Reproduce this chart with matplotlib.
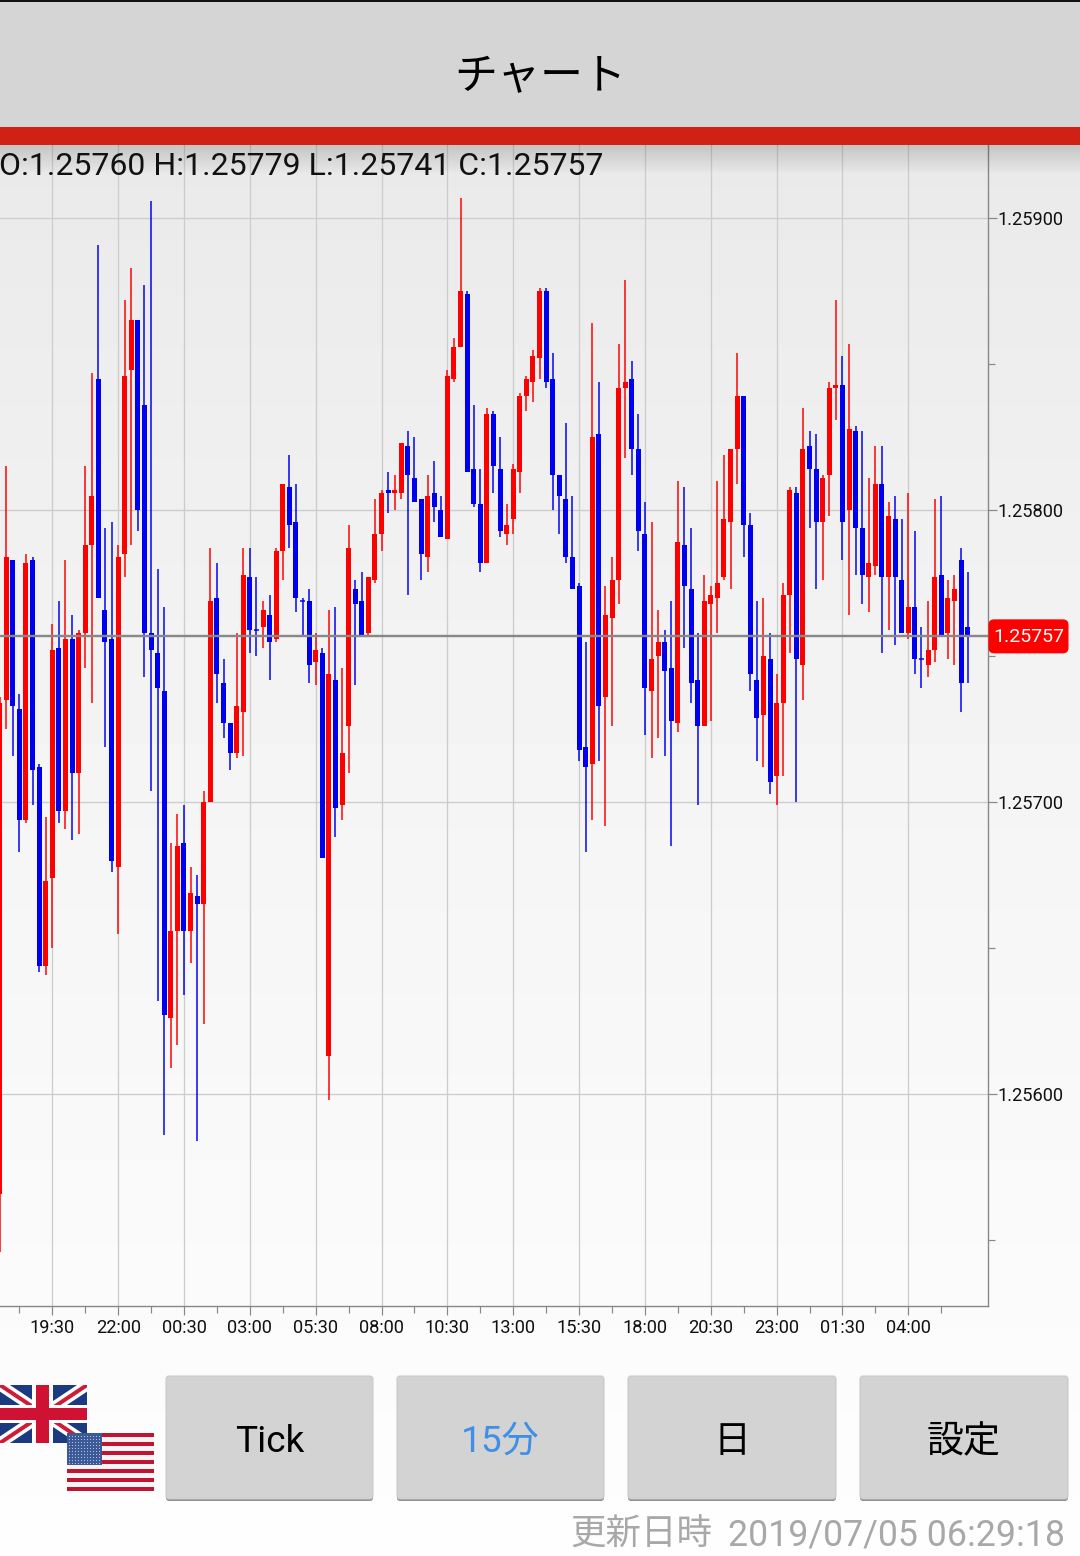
import numpy as np
import matplotlib
matplotlib.use('Agg')
import matplotlib.pyplot as plt
from matplotlib.patches import Rectangle, FancyBboxPatch
from matplotlib.lines import Line2D

plt.rcParams['font.family'] = ['Roboto', 'Noto Sans CJK JP', 'DejaVu Sans']

# prices are in 0.00001 steps above 1.0 (25757 -> 1.25757)
opens = [25566, 25735, 25783, 25732, 25694, 25783, 25712, 25644,
         25674, 25753, 25697, 25756, 25710, 25758, 25788, 25845, 25766, 25756,
         25678, 25785, 25848, 25865, 25836, 25758, 25751, 25738, 25626, 25656,
         25686, 25656, 25668, 25665, 25700, 25770, 25741, 25727, 25717, 25731,
         25777, 25759, 25760, 25764, 25756, 25786, 25808, 25796, 25769, 25769,
         25748, 25751, 25613, 25742, 25699, 25726, 25773, 25769, 25758, 25776,
         25792, 25807, 25806, 25806, 25822, 25811, 25804, 25784, 25806, 25800,
         25790, 25845, 25856, 25874, 25814, 25802, 25782, 25833, 25814, 25792,
         25797, 25813, 25839, 25844, 25852, 25875, 25845, 25812, 25804, 25784,
         25774, 25719, 25713, 25826, 25736, 25763, 25776, 25842, 25845, 25821,
         25792, 25738, 25750, 25755, 25746, 25727, 25788, 25773, 25742, 25726,
         25768, 25770, 25777, 25796, 25821, 25839, 25795, 25742, 25730, 25749,
         25709, 25734, 25771, 25806, 25747, 25822, 25814, 25796, 25812, 25842,
         25843, 25800, 25827, 25794, 25777, 25781, 25809, 25777, 25797, 25776,
         25758, 25767, 25749, 25747, 25752, 25778, 25758, 25769, 25783, 25760]
highs = [25736, 25815, 25783, 25737, 25785, 25784, 25713, 25695,
         25761, 25769, 25783, 25764, 25759, 25815, 25847, 25891, 25794, 25796,
         25788, 25872, 25883, 25865, 25877, 25906, 25780, 25767, 25686, 25696,
         25699, 25678, 25675, 25704, 25787, 25782, 25749, 25727, 25758, 25787,
         25787, 25777, 25769, 25771, 25787, 25809, 25819, 25809, 25770, 25773,
         25758, 25753, 25766, 25767, 25746, 25795, 25776, 25779, 25777, 25804,
         25807, 25813, 25812, 25823, 25827, 25825, 25804, 25812, 25817, 25805,
         25848, 25859, 25907, 25875, 25836, 25814, 25835, 25834, 25825, 25802,
         25816, 25840, 25846, 25855, 25876, 25876, 25854, 25812, 25830, 25805,
         25775, 25755, 25864, 25844, 25774, 25784, 25857, 25879, 25851, 25833,
         25803, 25796, 25766, 25759, 25769, 25810, 25808, 25794, 25758, 25778,
         25774, 25810, 25819, 25821, 25854, 25839, 25799, 25769, 25770, 25758,
         25744, 25775, 25808, 25808, 25835, 25827, 25826, 25812, 25844, 25872,
         25853, 25857, 25829, 25827, 25811, 25822, 25822, 25803, 25805, 25797,
         25806, 25793, 25760, 25769, 25804, 25805, 25776, 25778, 25787, 25779]
lows = [25546, 25725, 25716, 25683, 25693, 25699, 25642, 25641,
        25650, 25693, 25691, 25687, 25689, 25746, 25734, 25770, 25719, 25676,
        25655, 25777, 25788, 25793, 25743, 25704, 25632, 25586, 25609, 25617,
        25634, 25645, 25584, 25624, 25700, 25734, 25722, 25711, 25715, 25716,
        25751, 25750, 25753, 25742, 25755, 25776, 25787, 25765, 25757, 25741,
        25740, 25681, 25598, 25688, 25694, 25710, 25740, 25757, 25757, 25775,
        25786, 25799, 25800, 25804, 25771, 25803, 25776, 25779, 25796, 25791,
        25790, 25844, 25856, 25813, 25801, 25779, 25782, 25806, 25791, 25788,
        25792, 25806, 25834, 25837, 25845, 25842, 25800, 25792, 25782, 25773,
        25714, 25683, 25694, 25714, 25692, 25726, 25768, 25818, 25812, 25786,
        25723, 25715, 25722, 25716, 25685, 25724, 25753, 25734, 25699, 25726,
        25728, 25758, 25776, 25773, 25809, 25784, 25738, 25714, 25712, 25703,
        25699, 25709, 25751, 25700, 25735, 25794, 25773, 25776, 25798, 25831,
        25783, 25764, 25778, 25768, 25765, 25778, 25751, 25759, 25754, 25758,
        25756, 25744, 25739, 25743, 25748, 25757, 25749, 25747, 25731, 25741]
closes = [25734, 25784, 25733, 25694, 25782, 25711, 25644, 25673,
          25752, 25697, 25756, 25710, 25758, 25788, 25805, 25770, 25755, 25680,
          25784, 25846, 25865, 25800, 25758, 25752, 25739, 25627, 25656, 25685,
          25656, 25669, 25665, 25700, 25769, 25744, 25727, 25717, 25733, 25778,
          25759, 25759, 25766, 25755, 25786, 25809, 25795, 25770, 25769, 25747,
          25752, 25681, 25744, 25698, 25717, 25787, 25768, 25757, 25777, 25792,
          25806, 25806, 25807, 25823, 25812, 25803, 25785, 25805, 25801, 25791,
          25846, 25856, 25875, 25813, 25802, 25782, 25833, 25815, 25793, 25795,
          25814, 25839, 25845, 25853, 25875, 25844, 25812, 25805, 25784, 25773,
          25718, 25712, 25825, 25733, 25764, 25776, 25842, 25844, 25821, 25793,
          25739, 25749, 25755, 25745, 25728, 25789, 25774, 25741, 25726, 25769,
          25771, 25775, 25797, 25821, 25839, 25795, 25744, 25729, 25750, 25707,
          25734, 25771, 25807, 25749, 25821, 25814, 25796, 25811, 25842, 25843,
          25796, 25828, 25794, 25778, 25782, 25809, 25777, 25798, 25777, 25758,
          25767, 25749, 25749, 25752, 25777, 25757, 25770, 25773, 25741, 25757]

first_index = -8
time_labels = ['19:30', '22:00', '00:30', '03:00', '05:30', '08:00', '10:30',
               '13:00', '15:30', '18:00', '20:30', '23:00', '01:30', '04:00']
price_ticks = [1.256, 1.257, 1.258, 1.259]
price_minor = [1.2555, 1.2565, 1.2575, 1.2585]
buttons = [('Tick', 166, 373, 'black'), ('15分', 397, 604, '#3f8fe6'),
           ('日', 628, 836, 'black'), ('設定', 860, 1068, 'black')]
info_text = 'O:1.25760 H:1.25779 L:1.25741 C:1.25757'
updated_label = '更新日時'
updated_time = '2019/07/05 06:29:18'

W, H = 1080, 1556
PX = 0.72  # pixels to points at dpi 100


def to_price(values):
    return 1.0 + np.array(values) / 100000.0


def pixel_axes(fig):
    a = fig.add_axes([0, 0, 1, 1])
    a.set_xlim(0, W)
    a.set_ylim(H, 0)
    a.axis('off')
    a.set_autoscale_on(False)
    return a


fig = plt.figure(figsize=(W / 100, H / 100), dpi=100, facecolor='white')

# page background, light grey at the top fading to white
bg = pixel_axes(fig)
bg.set_zorder(0)
shade = np.interp(np.arange(H), [0, 145, 700, 1340, H], [0.915, 0.915, 0.955, 0.985, 0.995])
bg.imshow(shade[:, None], cmap='gray', vmin=0, vmax=1, aspect='auto', extent=(0, W, H, 0))

# chart axes, placed to the pixel
left, right, top, bottom = 0, 988, 145, 1306
ax = fig.add_axes([left / W, 1 - bottom / H, (right - left) / W, (bottom - top) / H])
ax.set_zorder(1)
ax.patch.set_alpha(0)
ax.set_xlim(-7.942, 142.10)
ax.set_ylim(1.255275, 1.259251)

o, h, l, c = to_price(opens), to_price(highs), to_price(lows), to_price(closes)
x = np.arange(first_index, first_index + len(opens))
cols = np.where(np.array(closes) > np.array(opens), '#ff0000', '#0000f0')

ax.vlines(x, l, h, colors=cols, linewidth=1.5 * PX, zorder=3)
ax.bar(x, np.abs(c - o), bottom=np.minimum(o, c), width=5.0 / 6.585, color=cols, linewidth=0, zorder=4)
flat = np.array(closes) == np.array(opens)
ax.hlines(o[flat], x[flat] - 0.38, x[flat] + 0.38, colors=cols[flat], linewidth=1.5 * PX, zorder=4)

# last price line
ax.axhline(c[-1], color='#888888', linewidth=2.4 * PX, zorder=5)

ax.set_xticks(np.arange(0, 10 * len(time_labels), 10))
ax.set_xticklabels(time_labels, fontsize=18.3 * PX, color='#111111')
ax.set_xticks(np.arange(-5, 140, 10), minor=True)
ax.yaxis.tick_right()
ax.set_yticks(price_ticks)
ax.set_yticklabels(['%.5f' % p for p in price_ticks], fontsize=18.3 * PX, color='#111111')
ax.set_yticks(price_minor, minor=True)
ax.grid(True, which='major', color='#cccccc', linewidth=1.3 * PX, zorder=1)
ax.set_axisbelow(True)
ax.tick_params(axis='x', which='major', length=9 * PX, width=1.2 * PX, color='#888888', pad=4 * PX)
ax.tick_params(axis='x', which='minor', length=7 * PX, width=1.2 * PX, color='#888888')
ax.tick_params(axis='y', which='major', length=9 * PX, width=1.2 * PX, color='#888888', pad=0)
ax.tick_params(axis='y', which='minor', length=7 * PX, width=1.2 * PX, color='#888888')
for s in ['left', 'top']:
    ax.spines[s].set_visible(False)
for s in ['right', 'bottom']:
    ax.spines[s].set_color('#888888')
    ax.spines[s].set_linewidth(1.4 * PX)

# everything around the chart, in screen pixels
ui = pixel_axes(fig)
ui.set_zorder(2)
ui.patch.set_alpha(0)

fade = np.zeros((30, 1, 4))
fade[:, 0, 3] = np.linspace(0.16, 0, 30)
ui.imshow(fade, aspect='auto', extent=(0, W, 175, 145), zorder=1)

ui.add_patch(Rectangle((0, 0), W, 127, fc='#d5d5d5', ec='none', zorder=2))
ui.add_patch(Rectangle((0, 0), W, 1.5, fc='#111111', ec='none', zorder=3))
ui.add_patch(Rectangle((0, 127), W, 18, fc='#cf2114', ec='none', zorder=3))
ui.text(540, 78, 'チャート', fontsize=43 * PX, ha='center', va='center', color='black', zorder=4)
ui.text(-1, 166, info_text, fontsize=32 * PX, ha='left', va='center', color='#111111', zorder=4)

# price tag
tag_y = H - ax.transData.transform((0, c[-1]))[1]
ui.add_patch(FancyBboxPatch((990, tag_y - 15), 77, 31, boxstyle='round,pad=0,rounding_size=4',
                            mutation_aspect=1, fc='#ff0000', ec='#ff0000', lw=3 * PX, zorder=4))
ui.text(1029, tag_y + 1, '%.5f' % c[-1], fontsize=19.5 * PX, ha='center', va='center',
        color='white', zorder=5)

# flags
uk = Rectangle((0, 1385), 87, 58, fc='#1c3a80', ec='none', zorder=2)
ui.add_patch(uk)
for wid, colour in [(11, 'white'), (4, '#cf1b35')]:
    for xs, ys in [((0, 87), (1385, 1443)), ((0, 87), (1443, 1385))]:
        line = Line2D(xs, ys, color=colour, linewidth=wid * PX, zorder=3, solid_capstyle='butt')
        ui.add_line(line)
        line.set_clip_path(uk)
ui.add_patch(Rectangle((0, 1405), 87, 18, fc='white', ec='none', zorder=3))
ui.add_patch(Rectangle((32, 1385), 21, 58, fc='white', ec='none', zorder=3))
ui.add_patch(Rectangle((0, 1408), 87, 12, fc='#cf1233', ec='none', zorder=3))
ui.add_patch(Rectangle((36, 1385), 13, 58, fc='#cf1233', ec='none', zorder=3))

for i in range(13):
    colour = '#bf1535' if i % 2 == 0 else '#f8f4f4'
    ui.add_patch(Rectangle((67, 1433 + i * 58 / 13), 87, 58 / 13 + 0.3, fc=colour, ec='none', zorder=5))
ui.add_patch(Rectangle((67, 1433), 35, 31.5, fc='#3c5a98', ec='none', zorder=6))
sx, sy = np.meshgrid(np.arange(69, 102, 3.0), np.arange(1435.5, 1464, 3.0))
ui.plot(sx.ravel(), sy.ravel(), ls='none', marker='o', ms=1.1 * PX, mfc='#c8d0e4', mec='none', zorder=7)

# buttons
for label, x0, x1, colour in buttons:
    ui.add_patch(FancyBboxPatch((x0, 1378), x1 - x0, 123, boxstyle='round,pad=0,rounding_size=3',
                                fc='#8f8f8f', ec='none', zorder=2))
    ui.add_patch(FancyBboxPatch((x0, 1376), x1 - x0, 123, boxstyle='round,pad=0,rounding_size=3',
                                fc='#d3d3d3', ec='#c8c8c8', lw=1 * PX, zorder=3))
    ui.text((x0 + x1) / 2, 1442, label, fontsize=37 * PX, ha='center', va='center', color=colour, zorder=4)

ui.text(570, 1535, updated_label, fontsize=35.5 * PX, ha='left', va='center', color='#a8a8a8', zorder=4)
ui.text(1065, 1535, updated_time, fontsize=35.8 * PX, ha='right', va='center', color='#a8a8a8', zorder=4)

fig.savefig('out.png', dpi=100)
